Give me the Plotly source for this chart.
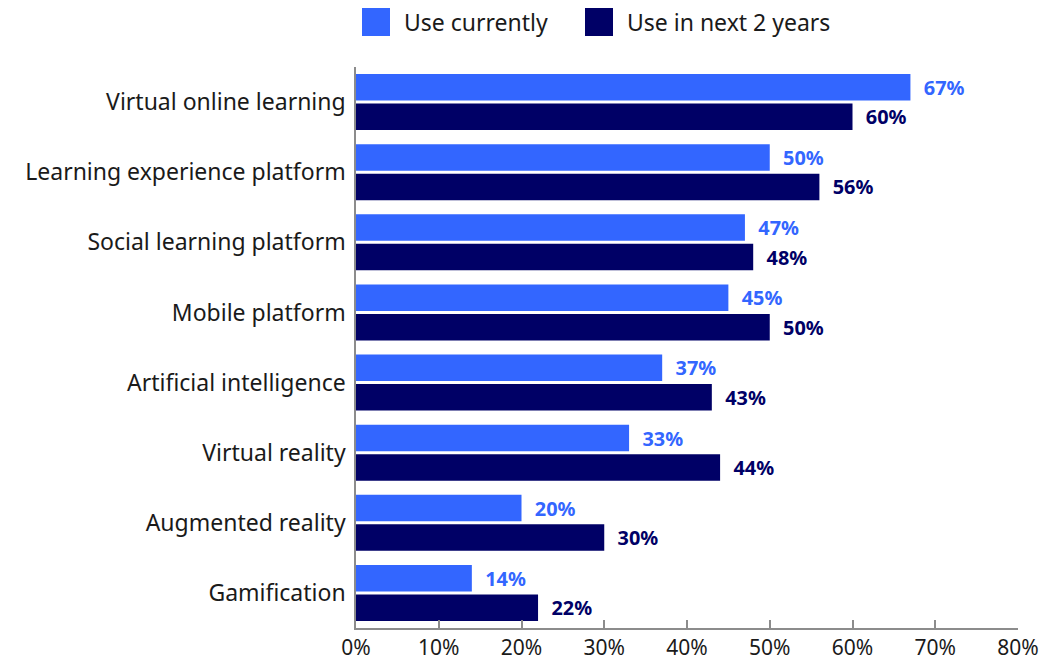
import plotly.graph_objects as go

# Survey data: share of organisations using each learning technology
categories = [
    "Virtual online learning",
    "Learning experience platform",
    "Social learning platform",
    "Mobile platform",
    "Artificial intelligence",
    "Virtual reality",
    "Augmented reality",
    "Gamification",
]
use_currently = [67, 50, 47, 45, 37, 33, 20, 14]
use_next_2_years = [60, 56, 48, 50, 43, 44, 30, 22]

series_names = ["Use currently", "Use in next 2 years"]
tick_values = [0, 10, 20, 30, 40, 50, 60, 70, 80]
tick_labels = [f"{v}%" for v in tick_values]

LIGHT = "#3366FF"
DARK = "#000066"
FONT = "Noto Sans"
TEXT = "#1a1a1a"

W, H = 1056, 663
L, R, T, B = 356, 38, 67, 35


def px_x(px):
    return (px - L) / (W - L - R)


def px_y(py):
    return (H - B - py) / (H - T - B)


fig = go.Figure()
for name, vals, col in [
    (series_names[0], use_currently, LIGHT),
    (series_names[1], use_next_2_years, DARK),
]:
    fig.add_trace(go.Bar(
        name=name,
        y=categories,
        x=vals,
        orientation="h",
        marker=dict(color=col, line=dict(width=0)),
        text=[f"  <b>{v}%</b>" for v in vals],
        textposition="outside",
        textfont=dict(family=FONT, size=21, color=col),
        cliponaxis=False,
        showlegend=False,
    ))

# Legend drawn as large colour swatches with labels above the plot
shapes = []
annotations = []
for (x0, x1, tx, label, col) in [
    (362, 390, 402, series_names[0], LIGHT),
    (585, 613, 625, series_names[1], DARK),
]:
    shapes.append(dict(
        type="rect", xref="paper", yref="paper",
        x0=px_x(x0), x1=px_x(x1), y0=px_y(36), y1=px_y(8),
        fillcolor=col, line=dict(width=0),
    ))
    annotations.append(dict(
        xref="paper", yref="paper", x=px_x(tx), y=px_y(22),
        xanchor="left", yanchor="middle", text=label, showarrow=False,
        font=dict(family=FONT, size=23, color=TEXT),
    ))

fig.update_layout(
    width=W, height=H,
    margin=dict(l=L, r=R, t=T, b=B, pad=0),
    paper_bgcolor="white",
    plot_bgcolor="white",
    barmode="group",
    bargap=0.16,
    bargroupgap=0.1,
    font=dict(family=FONT, size=23, color=TEXT),
    shapes=shapes,
    annotations=annotations,
    xaxis=dict(
        range=[0, 80],
        tickvals=tick_values,
        ticktext=tick_labels,
        ticks="inside",
        ticklen=8,
        tickwidth=1.5,
        tickcolor="#8c8c8c",
        showline=True,
        linecolor="#8c8c8c",
        linewidth=1.5,
        showgrid=False,
        zeroline=False,
        automargin=False,
        ticklabelstandoff=0,
        tickfont=dict(family=FONT, size=21, color=TEXT),
    ),
    yaxis=dict(
        categoryorder="array",
        categoryarray=categories,
        autorange="reversed",
        showline=True,
        linecolor="#8c8c8c",
        linewidth=1.5,
        ticks="",
        showgrid=False,
        zeroline=False,
        automargin=False,
        ticklabelstandoff=4,
        tickfont=dict(family=FONT, size=23, color=TEXT),
    ),
)

fig.write_html("out.html")
